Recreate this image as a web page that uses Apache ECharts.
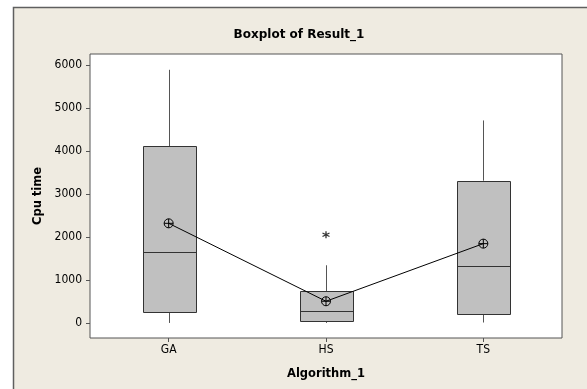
<!DOCTYPE html>
<html>
<head>
<meta charset="utf-8">
<script src="https://cdn.jsdelivr.net/npm/echarts@6/dist/echarts.min.js"></script>
<style>
html,body{margin:0;padding:0;background:#fff;}
#chart{width:587px;height:389px;}
</style>
</head>
<body>
<div id="chart"></div>
<script>
const categories = ['GA', 'HS', 'TS'];
const whiskerLow = [0, 0, 10];
const q1 = [255, 46, 218];
const median = [1658, 279, 1332];
const q3 = [4110, 743, 3306];
const whiskerHigh = [5883, 1340, 4706];
const means = [2315, 504, 1843];
const outliers = [[1, 2050]];
const yTicks = [0, 1000, 2000, 3000, 4000, 5000, 6000];

const FONT = "'DejaVu Sans Condensed', 'DejaVu Sans', sans-serif";
const BOLD = "'DejaVu Sans', sans-serif";

const boxData = categories.map((c, i) => [i, whiskerLow[i], q1[i], median[i], q3[i], whiskerHigh[i]]);
const meanData = categories.map((c, i) => [i, means[i]]);

const chart = echarts.init(document.getElementById('chart'), null, {renderer: 'canvas'});
chart.setOption({
  animation: false,
  backgroundColor: '#ffffff',
  graphic: [
    {type: 'rect', z: -100, shape: {x: 13.5, y: 7.5, width: 620, height: 420},
     style: {fill: '#EFEBE1', stroke: '#5f5f5f', lineWidth: 1.5}},
    {type: 'text', x: 299, y: 35, z: 10,
     style: {text: 'Boxplot of Result_1', fill: '#000', textAlign: 'center', textVerticalAlign: 'middle',
             font: "bold 12px 'DejaVu Sans', sans-serif"}}
  ],
  grid: {left: 90, top: 54, right: 25, bottom: 51, show: true, backgroundColor: '#ffffff',
         borderColor: '#555555', borderWidth: 1},
  xAxis: {
    type: 'category', data: categories, boundaryGap: true,
    axisLine: {show: false, onZero: false},
    axisTick: {show: true, alignWithLabel: true, length: 4, lineStyle: {color: '#555'}},
    axisLabel: {color: '#000', fontSize: 12, fontFamily: FONT, margin: 6},
    name: 'Algorithm_1', nameLocation: 'middle', nameGap: 30,
    nameTextStyle: {color: '#000', fontWeight: 'bold', fontSize: 11.5, fontFamily: BOLD},
    splitLine: {show: false}
  },
  yAxis: {
    type: 'value', min: -350, max: 6250,
    axisLine: {show: false},
    axisTick: {show: true, length: 4, customValues: yTicks, lineStyle: {color: '#555'}},
    axisLabel: {color: '#000', fontSize: 12, fontFamily: FONT, margin: 8, customValues: yTicks,
                formatter: function (v) { return String(v); }},
    splitLine: {show: false},
    name: 'Cpu time', nameLocation: 'middle', nameGap: 45, nameRotate: 90,
    nameTextStyle: {color: '#000', fontWeight: 'bold', fontSize: 11.5, fontFamily: BOLD}
  },
  series: [
    {
      type: 'custom',
      data: boxData,
      encode: {x: 0, y: [1, 2, 3, 4, 5]},
      renderItem: function (params, api) {
        const xi = api.value(0);
        const pLow = api.coord([xi, api.value(1)]);
        const pQ1 = api.coord([xi, api.value(2)]);
        const pMed = api.coord([xi, api.value(3)]);
        const pQ3 = api.coord([xi, api.value(4)]);
        const pHigh = api.coord([xi, api.value(5)]);
        const band = api.size([1, 0])[0];
        const w = band * 53 / 157.5;
        const cx = Math.round(pMed[0]) + 0.5;
        const x0 = Math.round(cx - w / 2) + 0.5;
        const x1 = Math.round(cx + w / 2) + 0.5;
        const wStyle = {stroke: '#555555', lineWidth: 1};
        const bStyle = {stroke: '#333333', lineWidth: 1};
        return {
          type: 'group',
          children: [
            {type: 'line', shape: {x1: cx, y1: pQ3[1], x2: cx, y2: pHigh[1]}, style: wStyle},
            {type: 'line', shape: {x1: cx, y1: pQ1[1], x2: cx, y2: pLow[1]}, style: wStyle},
            {type: 'rect', shape: {x: x0, y: Math.round(pQ3[1]) + 0.5, width: x1 - x0, height: Math.round(pQ1[1]) - Math.round(pQ3[1])},
             style: {fill: '#C0C0C0', stroke: '#333333', lineWidth: 1}},
            {type: 'line', shape: {x1: x0, y1: Math.round(pMed[1]) + 0.5, x2: x1, y2: Math.round(pMed[1]) + 0.5}, style: bStyle}
          ]
        };
      },
      z: 2
    },
    {
      type: 'line', data: meanData, symbol: 'none',
      lineStyle: {color: '#000', width: 1}, z: 3
    },
    {
      type: 'scatter', data: meanData,
      symbol: 'path://M0,-10 A10,10 0 1,1 0,10 A10,10 0 1,1 0,-10 Z M-10,0 L10,0 M0,-10 L0,10',
      symbolSize: 9,
      itemStyle: {color: 'rgba(0,0,0,0)', borderColor: '#000', borderWidth: 1, opacity: 1}, z: 4
    },
    {
      type: 'scatter', data: outliers,
      symbol: 'path://M0,-10 L0,10 M-8.66,-5 L8.66,5 M-8.66,5 L8.66,-5',
      symbolSize: 7,
      itemStyle: {color: 'rgba(0,0,0,0)', borderColor: '#000', borderWidth: 1.3}, z: 4
    }
  ]
});
</script>
</body>
</html>
